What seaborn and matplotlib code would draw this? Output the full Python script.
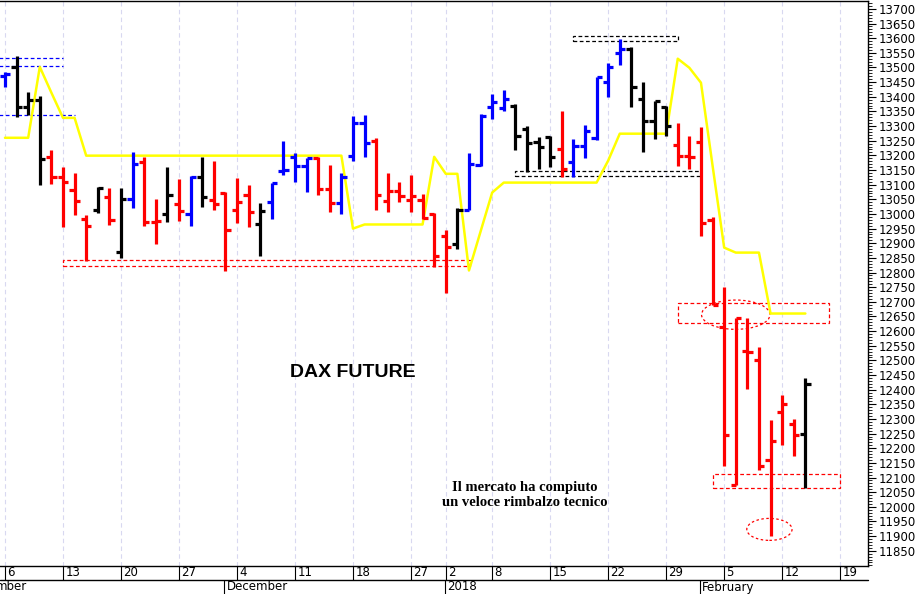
import numpy as np
import pandas as pd
import matplotlib
matplotlib.use("Agg")
import matplotlib.pyplot as plt
import seaborn as sns
from matplotlib.patches import Rectangle, Ellipse

# one bar per trading day, 6 Nov 2017 .. 14 Feb 2018 (index 0..69)
opens = [13470, 13500, 13366, 13389, 13195, 13127, 13083, 12983, 13015, 13057,
         12871, 13050, 13176, 12971, 13000, 13034, 13000, 13127, 13048, 13070,
         13013, 13066, 12966, 13041, 13145, 13193, 13165, 13191, 13085, 13036,
         13199, 13312, 13250, 13045, 13077, 13049, 13049, 13000, 12926, 12898,
         13013, 13168, 13366, 13361, 13369, 13290, 13244, 13261, 13222, 13176,
         13233, 13259, 13452, 13551, 13563, 13392, 13316, 13364, 13236, 13199,
         13244, 12980, 12613, 12074, 12532, 12502, 12159, 12324, 12282, 12248]
highs = [13483, 13540, 13418, 13403, 13219, 13161, 13139, 12998, 13093, 13089,
         13089, 13213, 13195, 13051, 13161, 13119, 13131, 13195, 13180, 13074,
         13124, 13100, 13039, 13107, 13248, 13208, 13191, 13193, 13167, 13140,
         13335, 13338, 13259, 13140, 13110, 13134, 13068, 13003, 12945, 13020,
         13207, 13341, 13411, 13423, 13377, 13301, 13261, 13267, 13350, 13256,
         13303, 13468, 13517, 13597, 13570, 13449, 13386, 13369, 13312, 13267,
         13298, 12989, 12752, 12646, 12646, 12545, 12298, 12381, 12301, 12441]
lows = [13432, 13332, 13339, 13100, 13102, 12957, 12998, 12841, 13002, 12963,
        12851, 13019, 12960, 12898, 12971, 12977, 12958, 13025, 13015, 12804,
        12968, 12957, 12857, 12982, 13134, 13110, 13074, 13066, 13008, 13000,
        13182, 13193, 13015, 13008, 13040, 13008, 12983, 12820, 12730, 12881,
        13013, 13165, 13324, 13350, 13218, 13142, 13153, 13161, 13125, 13125,
        13191, 13252, 13400, 13509, 13366, 13213, 13256, 13267, 13165, 13153,
        12926, 12688, 12139, 12074, 12403, 12125, 11900, 12210, 12173, 12063]
closes = [13478, 13365, 13389, 13187, 13127, 13108, 13043, 12960, 13087, 12980,
          13050, 13170, 12971, 12977, 13066, 13011, 13127, 13057, 13034, 12946,
          13040, 13008, 13009, 13104, 13150, 13162, 13191, 13085, 13036, 13127,
          13312, 13241, 13065, 13077, 13060, 13060, 12986, 12855, 12886, 13013,
          13170, 13335, 13381, 13392, 13267, 13241, 13230, 13193, 13153, 13233,
          13284, 13468, 13500, 13563, 13432, 13316, 13384, 13301, 13199, 13195,
          12968, 12690, 12244, 12646, 12528, 12139, 12225, 12352, 12244, 12420]
bar_colors = list("bkkkrrrrkrkbrrkrbkrrrrkbbbbrrbbbrrrrrrrkbbbbkkkkrbbbbbkkkkrrrrrrrrrrrk")
yellow = ([13260] * 3 + [13502, 13414, 13328, 13328] + [13199] * 23 + [12950] +
          [12964] * 6 + [13195, 13137, 13137, 12807, 12940, 13073] + [13107] * 9 +
          [13182] + [13274] * 5 + [13530, 13499, 13448, 13165, 12885] +
          [12868] * 3 + [12660] * 4)

week_idx = [0, 5, 10, 15, 20, 25, 30, 35, 38, 42, 47, 52, 57, 62, 67, 72]
week_labels = ["6", "13", "20", "27", "4", "11", "18", "27", "2", "8", "15",
               "22", "29", "5", "12", "19"]
month_idx = [-0.9, 19, 38, 60]
month_labels = ["mber", "December", "2018", "February"]

cmap = {"r": "#ff0000", "b": "#0000ff", "k": "#000000"}

df = pd.DataFrame({"i": np.arange(len(opens)), "o": opens, "h": highs,
                   "l": lows, "c": closes, "col": [cmap[c] for c in bar_colors],
                   "ma": yellow})

sns.set_style("white")
plt.rcParams["text.color"] = "black"
plt.rcParams["ytick.color"] = "black"
plt.rcParams["xtick.color"] = "black"
fig = plt.figure(figsize=(9.2, 5.94), dpi=100)
ax = fig.add_axes([0.0, 1 - 566 / 594, 868 / 920, 565 / 594])

sns.lineplot(data=df, x="i", y="ma", color="#ffff00", lw=1.8, ax=ax, zorder=2)
tw = 0.45
ax.vlines(df.i, df.l, df.h, colors=df.col, lw=2.3, zorder=3)
ax.hlines(df.o, df.i - tw, df.i, colors=df.col, lw=2.3, zorder=3)
ax.hlines(df.c, df.i, df.i + tw, colors=df.col, lw=2.3, zorder=3)

# support / resistance markings
dk = dict(ls=(0, (3, 2)), lw=0.9, zorder=1)
for y in (13533, 13506):
    ax.plot([-0.5, 5.0], [y, y], color="#0000ff", **dk)
ax.plot([-0.5, 6.0], [13338, 13338], color="#0000ff", **dk)
for (x0, x1, y0, y1, c) in [(5.0, 40.1, 12823, 12843, "#ff0000"),
                            (49.0, 58.0, 13590, 13608, "#000000"),
                            (44.0, 60.0, 13130, 13145, "#000000"),
                            (58.0, 71.0, 12628, 12697, "#ff0000"),
                            (61.0, 72.0, 12063, 12112, "#ff0000")]:
    ax.add_patch(Rectangle((x0, y0), x1 - x0, y1 - y0, fill=False, ec=c, **dk))
ax.add_patch(Ellipse((63.0, 12656), 5.9, 100, fill=False, ec="#ff0000",
                     ls=(0, (2, 2)), lw=0.9))
ax.add_patch(Ellipse((65.9, 11923), 3.9, 75, fill=False, ec="#ff0000",
                     ls=(0, (2, 2)), lw=0.9))

ax.text(30.0, 12460, "DAX FUTURE", fontsize=14, fontweight="bold",
        ha="center", va="center", family="Liberation Sans", color="black")
ax.text(44.8, 12040, "Il mercato ha compiuto\nun veloce rimbalzo tecnico",
        fontsize=10.5, ha="center", va="center", family="Liberation Serif",
        fontweight="bold", linespacing=1.15, color="black")

ax.set_xlim(-0.43, 74.4)
ax.set_ylim(11798, 13727)
ax.set_xlabel("")
ax.set_ylabel("")

# right price axis
ax.yaxis.tick_right()
ax.set_yticks(np.arange(11850, 13701, 50))
ax.set_yticks(np.arange(11800, 13721, 10), minor=True)
ax.tick_params(axis="y", which="major", length=6, width=0.8, labelsize=8.5,
               pad=2, right=True, left=False)
ax.tick_params(axis="y", which="minor", length=3, width=0.6, right=True, left=False)
for s in ax.spines.values():
    s.set_color("black")
    s.set_linewidth(1)
ax.spines["left"].set_visible(False)

# weekly grid and date rows
ax.set_xticks(week_idx)
ax.set_xticklabels([])
ax.tick_params(axis="x", length=0)
for w in week_idx:
    ax.axvline(w, color="#d8d8f0", ls=(0, (4, 3)), lw=0.8, zorder=0)
tr = ax.get_xaxis_transform()
r1 = -14 / 565
r2 = -28 / 565
for w, lab in zip(week_idx, week_labels):
    ax.plot([w, w], [0, r1], color="black", lw=0.8, transform=tr, clip_on=False)
    ax.text(w + 0.2, r1 / 2, lab, transform=tr, fontsize=8.5, va="center",
            ha="left", clip_on=False)
ax.plot([-0.43, 74.4], [r1, r1], color="black", lw=1, transform=tr, clip_on=False)
for m, lab in zip(month_idx, month_labels):
    if m > 0:
        ax.plot([m - 0.1, m - 0.1], [r1, r2], color="black", lw=0.8,
                transform=tr, clip_on=False)
    ax.text(m + 0.1, (r1 + r2) / 2, lab, transform=tr, fontsize=8.5,
            va="center", ha="left", clip_on=False)

fig.savefig("out.png", dpi=100)
